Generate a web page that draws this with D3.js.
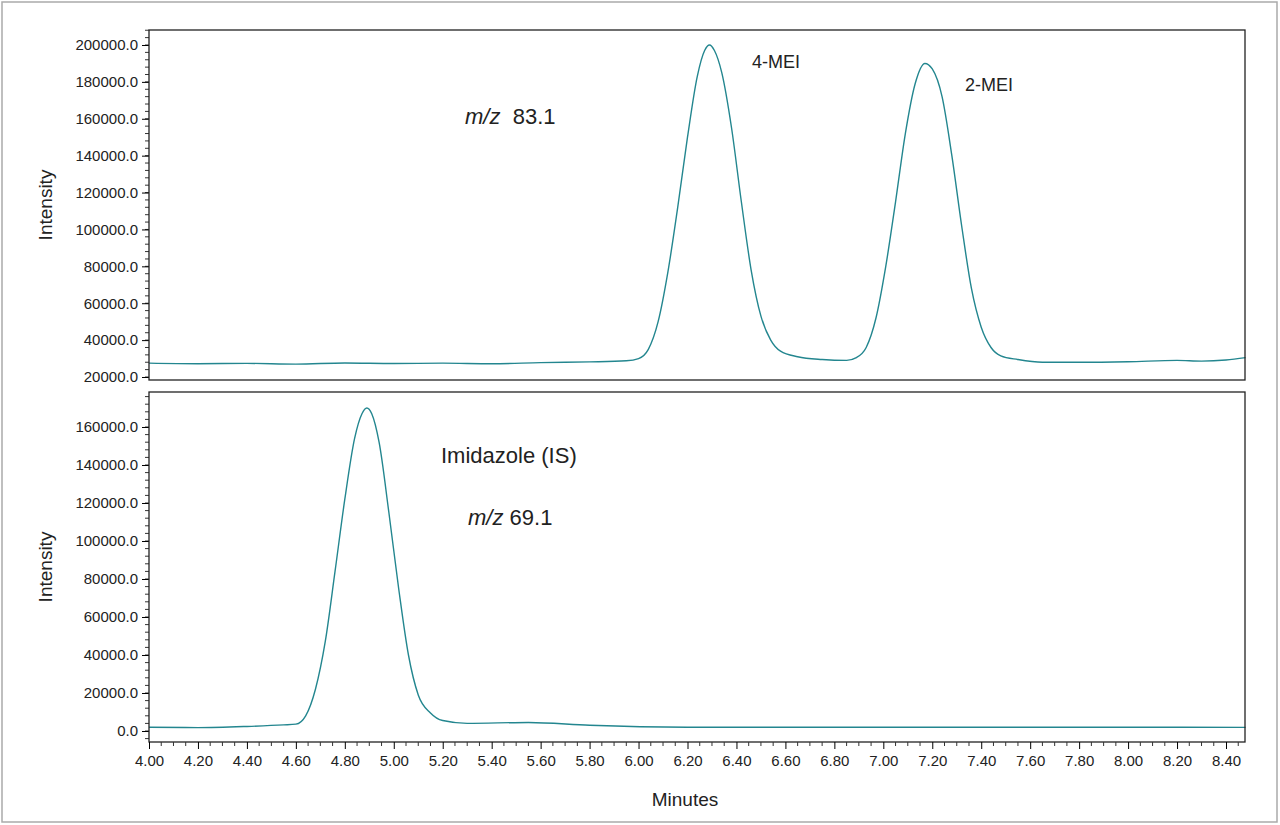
<!DOCTYPE html><html><head><meta charset="utf-8">
<script src="https://cdn.jsdelivr.net/npm/d3@7"></script>
<style>body{margin:0;background:#fff}text{font-family:"Liberation Sans",Arial,sans-serif;fill:#222}</style></head><body>
<svg id="c" width="1280" height="825"></svg>
<script>
const topX=[4.00,4.20,4.40,4.60,4.80,5.00,5.20,5.40,5.60,5.80,5.95,6.00,6.04,6.08,6.12,6.16,6.20,6.24,6.27,6.29,6.31,6.34,6.38,6.42,6.46,6.50,6.54,6.58,6.65,6.75,6.85,6.89,6.93,6.97,7.01,7.05,7.09,7.13,7.17,7.20,7.24,7.28,7.32,7.36,7.40,7.44,7.48,7.55,7.65,7.80,8.00,8.20,8.30,8.40,8.48];
const topY=[27500,27200,27400,27000,27600,27300,27500,27200,27800,28200,28800,30000,35000,50000,77000,112000,150000,183000,197000,200000,197000,185000,155000,115000,78000,53000,40000,34000,31000,29500,29000,30500,36000,52000,80000,115000,152000,179000,190000,187000,172000,140000,102000,68000,47000,36000,31500,29500,28000,28000,28300,29000,28600,29200,30500];
const botX=[4.00,4.20,4.40,4.55,4.60,4.64,4.68,4.72,4.76,4.80,4.84,4.87,4.89,4.91,4.94,4.98,5.02,5.06,5.10,5.15,5.20,5.30,5.55,5.80,6.20,7.00,8.00,8.48];
const botY=[2000,1800,2400,3200,3600,8000,22000,47000,84000,122000,154000,167000,170000,167000,152000,115000,75000,40000,19000,9500,5500,4000,4500,3000,2000,2000,2000,1900];
const xTicks=d3.range(4.0,8.401,0.2);
const topTicks=d3.range(20000,200001,20000);
const botTicks=d3.range(0,160001,20000);

const svg=d3.select("#c");
svg.append("rect").attr("x",2).attr("y",2).attr("width",1275).attr("height",820).attr("fill","none").attr("stroke","#aaa").attr("stroke-width",1.5);
const x=d3.scaleLinear().domain([4,8.4]).range([149,1226]);
const X0=149,X1=1245;
function panel(y0,y1,yMin,yMax,y,xs,ys,ticks){
  const g=svg.append("g");
  const minors=d3.range(Math.ceil(yMin/4000)*4000,yMax,4000);
  g.selectAll(".my").data(minors).join("line").attr("x1",X0-4).attr("x2",X0).attr("y1",d=>y(d)).attr("y2",d=>y(d)).attr("stroke","#333");
  const ax=g.append("g").attr("transform",`translate(${X0},0)`).call(d3.axisLeft(y).tickValues(ticks).tickFormat(d3.format(".1f")).tickSize(7).tickSizeOuter(0));
  ax.select(".domain").remove();
  ax.selectAll("text").style("font-size","15px").attr("dx","-1");
  const line=d3.line().x((d,i)=>x(xs[i])).y(d=>y(d)).curve(d3.curveMonotoneX);
  g.append("path").attr("d",line(ys)).attr("fill","none").attr("stroke","#23868f").attr("stroke-width",1.4);
  g.append("rect").attr("x",X0).attr("y",y0).attr("width",X1-X0).attr("height",y1-y0).attr("fill","none").attr("stroke","#222").attr("stroke-width",1.3);
  g.append("text").attr("transform",`translate(52,${(y0+y1)/2}) rotate(-90)`).attr("text-anchor","middle").style("font-size","19px").text("Intensity");
}
const yT=d3.scaleLinear().domain([20000,200000]).range([377,45]);
panel(30,380,yT.invert(380),yT.invert(30),yT,topX,topY,topTicks);
const yB=d3.scaleLinear().domain([0,160000]).range([731,427]);
panel(392,742,yB.invert(742),yB.invert(392),yB,botX,botY,botTicks);
const xa=svg.append("g").attr("transform","translate(0,742)").call(d3.axisBottom(x).tickValues(xTicks).tickFormat(d3.format(".2f")).tickSize(7).tickSizeOuter(0));
xa.select(".domain").remove();
xa.selectAll("text").style("font-size","15px").attr("dy","0.9em");
const minX=d3.range(4.05,8.48,0.05).filter(v=>Math.abs(v*5-Math.round(v*5))>0.01);
svg.selectAll(".mx").data(minX).join("line").attr("x1",d=>x(d)).attr("x2",d=>x(d)).attr("y1",742).attr("y2",746).attr("stroke","#333");
svg.append("text").attr("x",685).attr("y",806).attr("text-anchor","middle").style("font-size","19px").text("Minutes");
function lab(xp,yp,size,parts){const t=svg.append("text").attr("x",xp).attr("y",yp).style("font-size",size+"px").attr("xml:space","preserve");parts.forEach(p=>t.append("tspan").style("font-style",p[1]?"italic":"normal").text(p[0]));}
lab(465,124,22,[["m/z",1],["  83.1",0]]);
lab(752,68,18,[["4-MEI",0]]);
lab(965,91,18,[["2-MEI",0]]);
lab(441,463,22,[["Imidazole (IS)",0]]);
lab(468,525,22,[["m/z",1],[" 69.1",0]]);
</script></body></html>
